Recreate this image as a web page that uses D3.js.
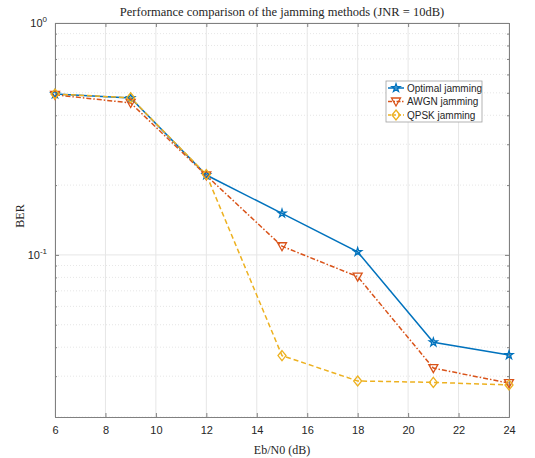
<!DOCTYPE html>
<html>
  <head>
    <meta charset="utf-8">
    <title>Jamming BER</title>
    <script src="https://d3js.org/d3.v7.min.js"></script>
    <style>
      body { margin: 0; background: #fff; }
      text { font-family: "Liberation Sans", Arial, sans-serif; fill: #262626; }
      .serif { font-family: "Liberation Serif", "DejaVu Serif", serif; }
    </style>
  </head>
  <body>
    <svg id="chart" width="535" height="458"></svg>
    <script>
// data
var ebn0 = [6, 9, 12, 15, 18, 21, 24];
var berOptimal = [0.494, 0.475, 0.221, 0.151, 0.103, 0.042, 0.037];
var berAwgn    = [0.490, 0.452, 0.220, 0.109, 0.0806, 0.0325, 0.028];
var berQpsk    = [0.494, 0.476, 0.222, 0.0368, 0.0286, 0.0282, 0.0275];
var seriesNames = ["Optimal jamming", "AWGN jamming", "QPSK jamming"];
var xTicks = [6, 8, 10, 12, 14, 16, 18, 20, 22, 24];

var width = 535, height = 458;
var margin = {left: 55, right: 26, top: 23, bottom: 41};

var svg = d3.select("#chart");

var x = d3.scaleLinear().domain([6, 24]).range([margin.left, width - margin.right]);
var y = d3.scaleLog().domain([0.02, 1]).range([height - margin.bottom, margin.top]);

var x0 = x.range()[0], x1 = x.range()[1];
var yb = y.range()[0], yt = y.range()[1];

// grid
var minorY = [0.02, 0.03, 0.04, 0.05, 0.06, 0.07, 0.08, 0.09, 0.2, 0.3, 0.4, 0.5, 0.6, 0.7, 0.8, 0.9];
var grid = svg.append("g");
grid.selectAll(".minor").data(minorY).enter().append("line")
  .attr("x1", x0).attr("x2", x1)
  .attr("y1", function(d) { return y(d); }).attr("y2", function(d) { return y(d); })
  .attr("stroke", "#e0e0e0").attr("stroke-width", 0.8).attr("stroke-dasharray", "1,2");
grid.selectAll(".vx").data(xTicks).enter().append("line")
  .attr("x1", function(d) { return x(d); }).attr("x2", function(d) { return x(d); })
  .attr("y1", yt).attr("y2", yb)
  .attr("stroke", "#e6e6e6").attr("stroke-width", 1);
grid.selectAll(".vy").data([0.1, 1]).enter().append("line")
  .attr("x1", x0).attr("x2", x1)
  .attr("y1", function(d) { return y(d); }).attr("y2", function(d) { return y(d); })
  .attr("stroke", "#e6e6e6").attr("stroke-width", 1);

// axes (bottom/left with labels, top/right ticks only)
var axisColor = "#808080";
var xAxis = svg.append("g").attr("transform", "translate(0," + yb + ")")
  .call(d3.axisBottom(x).tickValues(xTicks).tickSizeInner(-4).tickSizeOuter(0).tickPadding(9));
var xTop = svg.append("g").attr("transform", "translate(0," + yt + ")")
  .call(d3.axisTop(x).tickValues(xTicks).tickSizeInner(-4).tickSizeOuter(0).tickFormat(""));
var yAxis = svg.append("g").attr("transform", "translate(" + x0 + ",0)")
  .call(d3.axisLeft(y).tickValues([0.1, 1]).tickSizeInner(-4).tickSizeOuter(0).tickFormat(""));
var yRight = svg.append("g").attr("transform", "translate(" + x1 + ",0)")
  .call(d3.axisRight(y).tickValues([0.1, 1]).tickSizeInner(-4).tickSizeOuter(0).tickFormat(""));
var yMinorL = svg.append("g").attr("transform", "translate(" + x0 + ",0)")
  .call(d3.axisLeft(y).tickValues(minorY).tickSizeInner(-2).tickSizeOuter(0).tickFormat(""));
var yMinorR = svg.append("g").attr("transform", "translate(" + x1 + ",0)")
  .call(d3.axisRight(y).tickValues(minorY).tickSizeInner(-2).tickSizeOuter(0).tickFormat(""));
[xAxis, xTop, yAxis, yRight, yMinorL, yMinorR].forEach(function(g) {
  g.selectAll("path").attr("stroke", axisColor);
  g.selectAll("line").attr("stroke", axisColor);
});
xAxis.selectAll("text").style("font-size", "11px").attr("fill", "#262626")
  .style("font-family", "Liberation Sans, Arial, sans-serif");

// y decade labels 10^0 and 10^-1
[[1, "0"], [0.1, "-1"]].forEach(function(t) {
  var lab = svg.append("text").attr("x", x0 - 8).attr("y", y(t[0]) + 4)
    .attr("text-anchor", "end").style("font-size", "11px");
  lab.append("tspan").text("10");
  lab.append("tspan").attr("dy", -5).style("font-size", "8px").text(t[1]);
});

// series
var colors = ["#0072BD", "#D95319", "#EDB120"];
var dashes = [null, "5,2,1.5,2", "5,3"];
var allSeries = [berOptimal, berAwgn, berQpsk];

var line = d3.line()
  .x(function(d, i) { return x(ebn0[i]); })
  .y(function(d) { return y(d); });

var markerPath = [
  d3.symbol().type(d3.symbolStar).size(20)(),
  "M-4.5,-3.5L4.5,-3.5L0,4.5Z",
  "M0,-5L4,0L0,5L-4,0Z"
];

allSeries.forEach(function(s, k) {
  svg.append("path").datum(s)
    .attr("d", line)
    .attr("fill", "none")
    .attr("stroke", colors[k])
    .attr("stroke-width", 1.5)
    .attr("stroke-dasharray", dashes[k]);
});
allSeries.forEach(function(s, k) {
  svg.append("g").selectAll("path").data(s).enter().append("path")
    .attr("d", markerPath[k])
    .attr("transform", function(d, i) { return "translate(" + x(ebn0[i]) + "," + y(d) + ")"; })
    .attr("fill", "none")
    .attr("stroke", colors[k])
    .attr("stroke-width", 1.3);
});

// legend
var legend = svg.append("g").attr("transform", "translate(386,81)");
legend.append("rect").attr("width", 96).attr("height", 41)
  .attr("fill", "#fff").attr("stroke", "#a0a0a0").attr("stroke-width", 0.8);
seriesNames.forEach(function(name, k) {
  var ly = 7 + k * 13.5;
  legend.append("line").attr("x1", 2).attr("x2", 18).attr("y1", ly).attr("y2", ly)
    .attr("stroke", colors[k]).attr("stroke-width", 1.5)
    .attr("stroke-dasharray", k === 0 ? null : (k === 1 ? "4,1.5,1.5,1.5" : "3,2"));
  legend.append("path").attr("d", markerPath[k])
    .attr("transform", "translate(10," + ly + ")")
    .attr("fill", "none").attr("stroke", colors[k]).attr("stroke-width", 1.3);
  legend.append("text").attr("x", 21).attr("y", ly + 3.5)
    .style("font-size", "10px").text(name);
});

// title and axis labels
svg.append("text").attr("class", "serif").attr("x", (x0 + x1) / 2).attr("y", 16)
  .attr("text-anchor", "middle").style("font-size", "12.5px")
  .text("Performance comparison of the jamming methods (JNR = 10dB)");
svg.append("text").attr("class", "serif").attr("x", (x0 + x1) / 2).attr("y", 454)
  .attr("text-anchor", "middle").style("font-size", "12px")
  .text("Eb/N0 (dB)");
svg.append("text").attr("class", "serif")
  .attr("transform", "translate(24,216) rotate(-90)")
  .attr("text-anchor", "middle").style("font-size", "12px")
  .text("BER");
    </script>
  </body>
</html>
